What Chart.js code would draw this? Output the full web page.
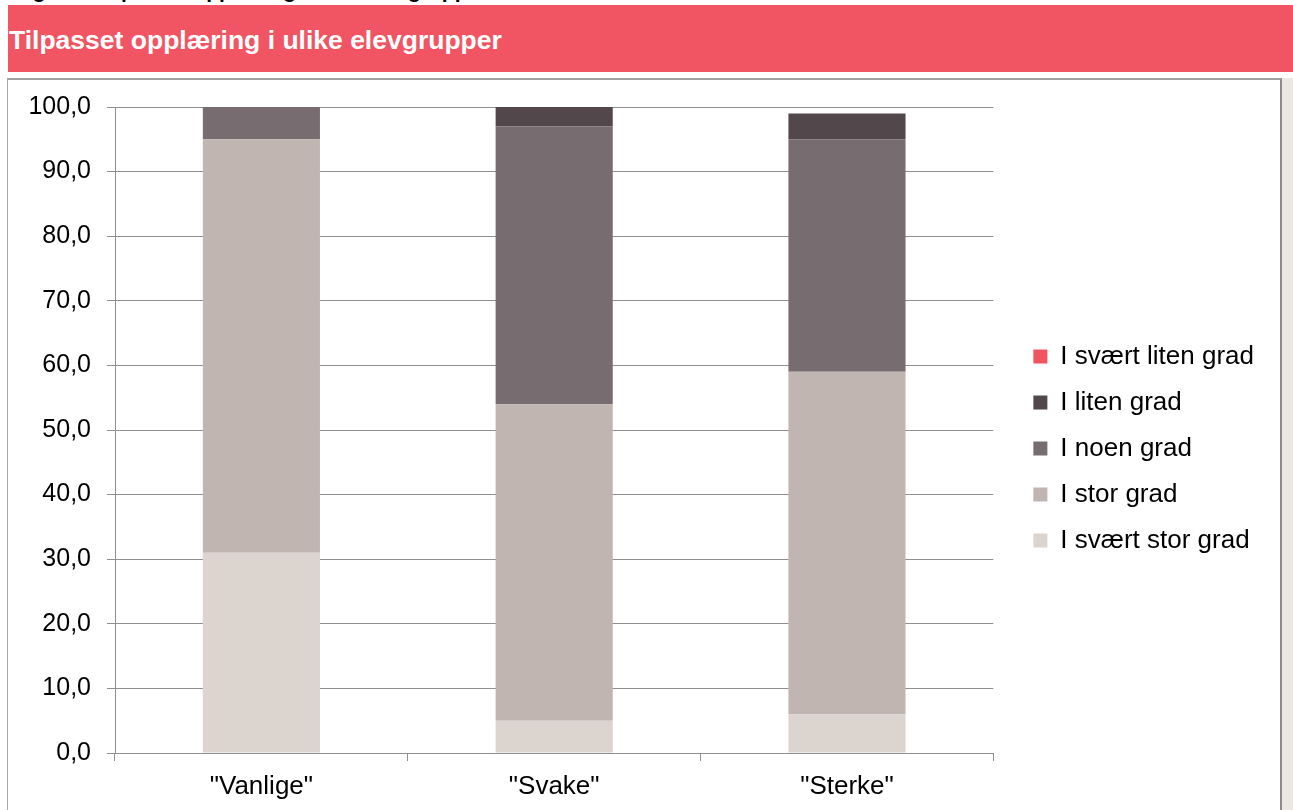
<!DOCTYPE html>
<html>
<head>
<meta charset="utf-8">
<script src="https://cdn.jsdelivr.net/npm/chart.js@4"></script>
<style>
  body { margin: 0; background: #fff; width: 1293px; height: 810px; overflow: hidden; position: relative; font-family: "Liberation Sans", Arial, sans-serif; }
  #figTitle { position: absolute; left: 14px; top: -20px; font: bold 21px "Liberation Sans", Arial, sans-serif; line-height: 21px; color: #000; white-space: nowrap; }
  #banner { position: absolute; left: 8px; top: 5px; width: 1285px; height: 67px; background: #f15563; }
  #banner span { position: absolute; left: 1px; top: 22px; font: bold 26.5px "Liberation Sans", Arial, sans-serif; line-height: 26px; color: #fff; white-space: nowrap; }
  #box { position: absolute; left: 7px; top: 78px; width: 1272px; height: 740px; border-left: 1px solid #a8a8a8; border-top: 2px solid #a0a0a0; border-right: 3px solid #8a8a8a; background: #fff; }
  #side { position: absolute; left: 1282px; top: 78px; width: 11px; height: 732px; background: #ebe7e2; }
  #wrap { position: absolute; left: 9px; top: 80px; width: 1270px; height: 730px; }
</style>
</head>
<body>
<div id="figTitle">Figur 4: Tilpasset opplæring i ulike elevgrupper</div>
<div id="banner"><span>Tilpasset opplæring i ulike elevgrupper</span></div>
<div id="box"></div>
<div id="side"></div>
<div id="wrap"><canvas id="graf"></canvas></div>
<script>
// data
const kategorier = ['"Vanlige"', '"Svake"', '"Sterke"'];
const iSvaertStorGrad = [31, 5, 6];
const iStorGrad = [64, 49, 53];
const iNoenGrad = [5, 43, 36];
const iLitenGrad = [0, 3, 4];
const iSvaertLitenGrad = [0, 0, 0];

const serier = [
    { label: 'I svært stor grad', data: iSvaertStorGrad, color: '#dbd4cf' },
    { label: 'I stor grad', data: iStorGrad, color: '#c0b5b0' },
    { label: 'I noen grad', data: iNoenGrad, color: '#776c6f' },
    { label: 'I liten grad', data: iLitenGrad, color: '#52474a' },
    { label: 'I svært liten grad', data: iSvaertLitenGrad, color: '#f2545f' }
];

const fontFam = '"Liberation Sans", Arial, sans-serif';
const gridFarge = '#8f8f8f';

// legend nudged to sit like the original
const flyttLegend = {
    id: 'flyttLegend',
    afterLayout(chart) {
        const lg = chart.legend;
        lg.left += 20; lg.right += 20;
        lg.top -= 10; lg.bottom -= 10;
    }
};

new Chart(document.getElementById('graf'), {
    type: 'bar',
    data: {
        labels: kategorier,
        datasets: serier.map(s => ({
            label: s.label,
            data: s.data,
            backgroundColor: s.color,
            borderWidth: 0,
            barPercentage: 0.4,
            categoryPercentage: 1
        }))
    },
    options: {
        responsive: true,
        maintainAspectRatio: false,
        animation: false,
        layout: { padding: { top: 27, right: 35, bottom: 0, left: 0 } },
        plugins: {
            tooltip: { enabled: false },
            legend: {
                position: 'right',
                reverse: true,
                labels: { font: { family: fontFam, size: 26 }, color: '#000', boxWidth: 14, boxHeight: 14, padding: 20 }
            }
        },
        scales: {
            x: {
                stacked: true,
                afterFit(scale) { scale.height = 57; },
                grid: { offset: true, drawOnChartArea: false, drawTicks: true, tickLength: 8, color: gridFarge },
                border: { color: gridFarge },
                ticks: { font: { family: fontFam, size: 26 }, color: '#000', padding: 10 }
            },
            y: {
                stacked: true,
                min: 0,
                max: 100,
                afterFit(scale) { scale.width = 106; scale.paddingTop = 27; scale.paddingBottom = 0; },
                grid: { color: gridFarge, tickLength: 8 },
                border: { color: gridFarge },
                ticks: {
                    stepSize: 10,
                    font: { family: fontFam, size: 25 },
                    color: '#000',
                    padding: 16,
                    callback: v => v.toFixed(1).replace('.', ',')
                }
            }
        }
    },
    plugins: [flyttLegend]
});
</script>
</body>
</html>
